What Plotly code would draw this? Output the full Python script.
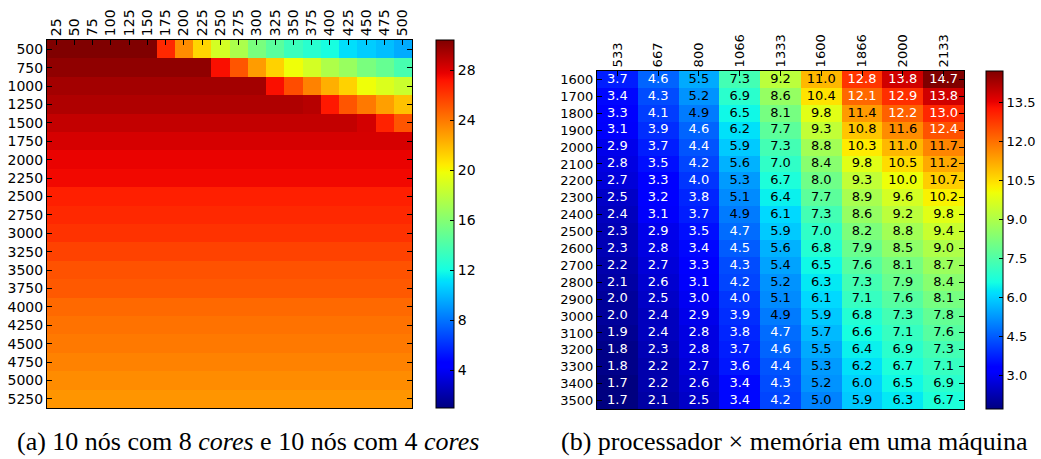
import plotly.graph_objects as go

W, H = 1041, 459

# ---------------- data: left heatmap (a) ----------------
left_x = [25, 50, 75, 100, 125, 150, 175, 200, 225, 250,
          275, 300, 325, 350, 375, 400, 425, 450, 475, 500]
left_y = [500, 750, 1000, 1250, 1500, 1750, 2000, 2250, 2500, 2750,
          3000, 3250, 3500, 3750, 4000, 4250, 4500, 4750, 5000, 5250]
row_500 = [30.4, 30.4, 30.4, 30.4, 30.4, 30.4, 26.5, 23.4, 21.1, 18.8,
           17.4, 15.6, 14.5, 13.4, 12.7, 12.1, 11.1, 10.6, 10.2, 9.6]
row_750 = [30.0, 30.0, 30.0, 30.0, 30.0, 30.0, 30.0, 30.0, 30.0, 27.3,
           25.1, 22.9, 21.2, 19.8, 18.8, 17.5, 16.7, 15.6, 14.9, 13.8]
row_1000 = [29.5, 29.5, 29.5, 29.5, 29.5, 29.5, 29.5, 29.5, 29.5, 29.5,
            29.5, 29.5, 27.3, 25.4, 23.7, 22.3, 21.2, 19.8, 19.1, 18.5]
row_1250 = [29.2, 29.2, 29.2, 29.2, 29.2, 29.2, 29.2, 29.2, 29.2, 29.2,
            29.2, 29.2, 29.2, 29.2, 29.0, 27.0, 25.1, 24.0, 22.8, 21.7]
row_1500 = [28.7, 28.7, 28.7, 28.7, 28.7, 28.7, 28.7, 28.7, 28.7, 28.7,
            28.7, 28.7, 28.7, 28.7, 28.7, 28.7, 28.7, 28.3, 26.7, 25.1]
# rows 1750 .. 5250 are uniform across columns
uniform_rows = [28.2, 27.7, 27.5, 26.8, 26.5, 26.2, 25.7, 25.2,
                25.0, 24.5, 24.2, 24.0, 23.7, 23.4, 23.1]
left_z = [row_500, row_750, row_1000, row_1250, row_1500] + \
         [[v for _ in left_x] for v in uniform_rows]
left_cmin, left_cmax = 1.0, 30.4
left_cticks = [4, 8, 12, 16, 20, 24, 28]

# ---------------- data: right heatmap (b) ----------------
mem = ["533", "667", "800", "1066", "1333", "1600", "1866", "2000", "2133"]
cpu = ["1600", "1700", "1800", "1900", "2000", "2100", "2200", "2300", "2400", "2500",
       "2600", "2700", "2800", "2900", "3000", "3100", "3200", "3300", "3400", "3500"]
right_z = [
    [3.7, 4.6, 5.5, 7.3, 9.2, 11.0, 12.8, 13.8, 14.7],
    [3.4, 4.3, 5.2, 6.9, 8.6, 10.4, 12.1, 12.9, 13.8],
    [3.3, 4.1, 4.9, 6.5, 8.1, 9.8, 11.4, 12.2, 13.0],
    [3.1, 3.9, 4.6, 6.2, 7.7, 9.3, 10.8, 11.6, 12.4],
    [2.9, 3.7, 4.4, 5.9, 7.3, 8.8, 10.3, 11.0, 11.7],
    [2.8, 3.5, 4.2, 5.6, 7.0, 8.4, 9.8, 10.5, 11.2],
    [2.7, 3.3, 4.0, 5.3, 6.7, 8.0, 9.3, 10.0, 10.7],
    [2.5, 3.2, 3.8, 5.1, 6.4, 7.7, 8.9, 9.6, 10.2],
    [2.4, 3.1, 3.7, 4.9, 6.1, 7.3, 8.6, 9.2, 9.8],
    [2.3, 2.9, 3.5, 4.7, 5.9, 7.0, 8.2, 8.8, 9.4],
    [2.3, 2.8, 3.4, 4.5, 5.6, 6.8, 7.9, 8.5, 9.0],
    [2.2, 2.7, 3.3, 4.3, 5.4, 6.5, 7.6, 8.1, 8.7],
    [2.1, 2.6, 3.1, 4.2, 5.2, 6.3, 7.3, 7.9, 8.4],
    [2.0, 2.5, 3.0, 4.0, 5.1, 6.1, 7.1, 7.6, 8.1],
    [2.0, 2.4, 2.9, 3.9, 4.9, 5.9, 6.8, 7.3, 7.8],
    [1.9, 2.4, 2.8, 3.8, 4.7, 5.7, 6.6, 7.1, 7.6],
    [1.8, 2.3, 2.8, 3.7, 4.6, 5.5, 6.4, 6.9, 7.3],
    [1.8, 2.2, 2.7, 3.6, 4.4, 5.3, 6.2, 6.7, 7.1],
    [1.7, 2.2, 2.6, 3.4, 4.3, 5.2, 6.0, 6.5, 6.9],
    [1.7, 2.1, 2.5, 3.4, 4.2, 5.0, 5.9, 6.3, 6.7],
]
right_cmin, right_cmax = 1.7, 14.7
right_cticks = [3.0, 4.5, 6.0, 7.5, 9.0, 10.5, 12.0, 13.5]

caption_a = "(a) 10 nós com 8 <i>cores</i> e 10 nós com 4 <i>cores</i>"
caption_b = "(b) processador × memória em uma máquina"

# ---------------- matplotlib "jet" colormap ----------------
_jet = {
    "r": [(0, 0), (0.35, 0), (0.66, 1), (0.89, 1), (1, 0.5)],
    "g": [(0, 0), (0.125, 0), (0.375, 1), (0.64, 1), (0.91, 0), (1, 0)],
    "b": [(0, 0.5), (0.11, 1), (0.34, 1), (0.65, 0), (1, 0)],
}


def _interp(pts, t):
    for (x0, y0), (x1, y1) in zip(pts[:-1], pts[1:]):
        if x0 <= t <= x1:
            return y0 + (y1 - y0) * (t - x0) / (x1 - x0) if x1 > x0 else y1
    return pts[-1][1]


_stops = sorted({p[0] for c in _jet.values() for p in c})
jet = [[t, "rgb(%d,%d,%d)" % tuple(round(255 * _interp(_jet[c], t)) for c in "rgb")]
       for t in _stops]


# ---------------- layout geometry (pixels) ----------------
def px_x(p):
    return p / W


def px_y(p):
    return 1 - p / H


L_x0, L_x1, L_y0, L_y1 = 47, 412, 40, 408
R_x0, R_x1, R_y0, R_y1 = 597, 964, 71, 409

fig = go.Figure()

fig.add_trace(go.Heatmap(
    x=left_x, y=left_y, z=left_z, colorscale=jet,
    zmin=left_cmin, zmax=left_cmax, xaxis="x", yaxis="y",
    colorbar=dict(
        x=px_x(436), xanchor="left", xpad=0, ypad=0,
        y=px_y((L_y0 + L_y1) / 2), yanchor="middle",
        len=(L_y1 - L_y0) / H, lenmode="fraction",
        thickness=18, thicknessmode="pixels",
        outlinewidth=1, outlinecolor="black",
        tickvals=left_cticks, ticks="inside", ticklen=4, tickcolor="black",
        tickfont=dict(family="DejaVu Sans", size=14, color="black"),
    ),
    hoverinfo="skip",
))

fig.add_trace(go.Heatmap(
    x=mem, y=cpu, z=right_z, colorscale=jet,
    zmin=right_cmin, zmax=right_cmax, xaxis="x2", yaxis="y2",
    colorbar=dict(
        x=px_x(986), xanchor="left", xpad=0, ypad=0,
        y=px_y((R_y0 + R_y1) / 2), yanchor="middle",
        len=(R_y1 - R_y0) / H, lenmode="fraction",
        thickness=17, thicknessmode="pixels",
        outlinewidth=1, outlinecolor="black",
        tickvals=right_cticks, tickformat=".1f",
        ticks="inside", ticklen=4, tickcolor="black",
        tickfont=dict(family="DejaVu Sans", size=13, color="black"),
    ),
    hoverinfo="skip",
))

# cell labels for (b)
tx, ty, tt, tc = [], [], [], []
for yi, row in zip(cpu, right_z):
    for xi, v in zip(mem, row):
        tx.append(xi)
        ty.append(yi)
        tt.append("%.1f" % v)
        tc.append("white" if (v < 4.8 or v > 12.0) else "black")
fig.add_trace(go.Scatter(
    x=tx, y=ty, text=tt, mode="text", xaxis="x2", yaxis="y2",
    textfont=dict(family="DejaVu Sans", size=13, color=tc),
    hoverinfo="skip", showlegend=False,
))

axis_common = dict(
    showgrid=False, zeroline=False, showline=True, linecolor="black", linewidth=1,
    ticks="inside", ticklen=5, tickcolor="black", tickwidth=1,
)

fig.update_layout(
    width=W, height=H, margin=dict(l=0, r=0, t=0, b=0),
    paper_bgcolor="white", plot_bgcolor="white", showlegend=False,
    xaxis=dict(**axis_common, domain=[px_x(L_x0), px_x(L_x1)], anchor="y",
               side="top", mirror=True, range=[12.5, 512.5],
               tickvals=left_x, tickangle=-90,
               tickfont=dict(family="DejaVu Sans", size=14, color="black")),
    yaxis=dict(**axis_common, domain=[px_y(L_y1), px_y(L_y0)], anchor="x",
               mirror="ticks", range=[5375, 375], tickvals=left_y,
               tickfont=dict(family="DejaVu Sans", size=14, color="black")),
    xaxis2=dict(**axis_common, domain=[px_x(R_x0), px_x(R_x1)], anchor="y2",
                side="top", mirror=True, range=[-0.5, len(mem) - 0.5],
                type="category", tickangle=-90,
                tickfont=dict(family="DejaVu Sans", size=13, color="black")),
    yaxis2=dict(**axis_common, domain=[px_y(R_y1), px_y(R_y0)], anchor="x2",
                mirror="ticks", range=[len(cpu) - 0.5, -0.5], type="category",
                tickfont=dict(family="DejaVu Sans", size=13, color="black")),
    annotations=[
        dict(text=caption_a, x=px_x(15), y=px_y(441), xref="paper", yref="paper",
             xanchor="left", yanchor="middle", showarrow=False,
             font=dict(family="Liberation Serif", size=26, color="black")),
        dict(text=caption_b, x=px_x(559), y=px_y(441), xref="paper", yref="paper",
             xanchor="left", yanchor="middle", showarrow=False,
             font=dict(family="Liberation Serif", size=26, color="black")),
    ],
)

fig.write_html("out.html")
